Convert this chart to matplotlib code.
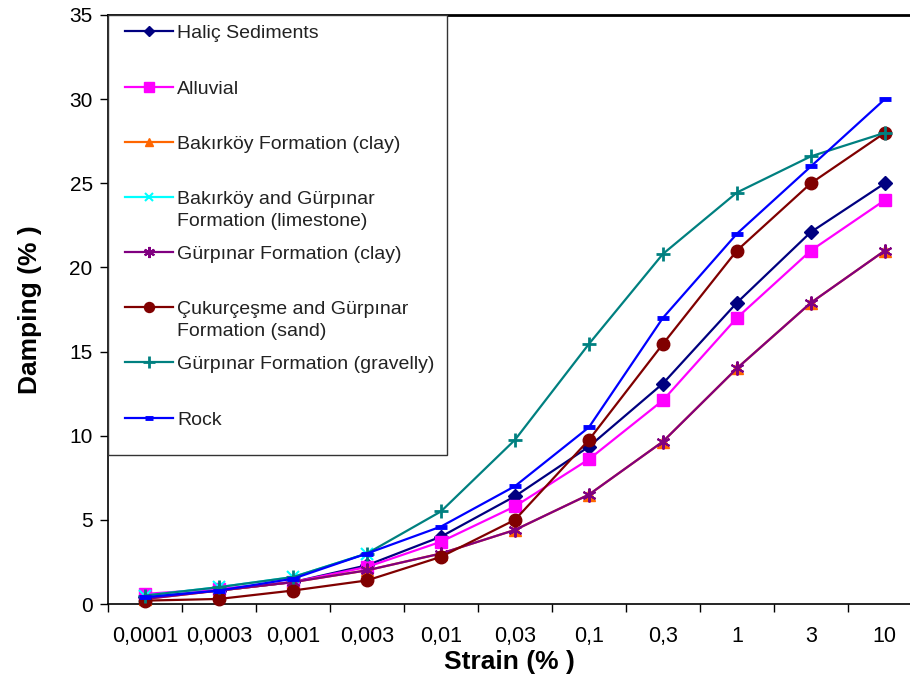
import numpy as np
import matplotlib
matplotlib.use("Agg")
import matplotlib.pyplot as plt
from matplotlib.patches import Rectangle
from matplotlib.lines import Line2D

plt.rcParams['font.family'] = ['Liberation Sans', 'DejaVu Sans']

strain_labels = ["0,0001", "0,0003", "0,001", "0,003", "0,01", "0,03",
                 "0,1", "0,3", "1", "3", "10"]

nan = np.nan
halic = [0.4, 0.8, 1.3, 2.3, 4.0, 6.4, 9.35, 13.1, 17.9, 22.1, 25.0]
alluvial = [0.6, 0.9, 1.3, 2.2, 3.7, 5.8, 8.6, 12.1, 17.0, 21.0, 24.0]
bakirkoy_clay = [0.3, 0.8, 1.3, 2.0, 3.0, 4.4, 6.5, 9.65, 14.0, 17.9, 21.0]
limestone = [0.5, 1.0, 1.6, 3.0, nan, nan, nan, nan, nan, nan, nan]
gurpinar_clay = [0.3, 0.8, 1.3, 2.0, 3.0, 4.4, 6.5, 9.65, 14.0, 17.9, 21.0]
cukurcesme = [0.2, 0.3, 0.8, 1.4, 2.8, 5.0, 9.75, 15.45, 21.0, 25.0, 28.0]
gravelly = [0.5, 1.0, 1.6, 3.0, 5.5, 9.75, 15.45, 20.8, 24.45, 26.6, 28.0]
rock = [0.4, 0.8, 1.5, 3.0, 4.6, 7.0, 10.5, 17.0, 22.0, 26.0, 30.0]

series_names = ["Haliç Sediments", "Alluvial", "Bakırköy Formation (clay)",
                "Bakırköy and Gürpınar\nFormation (limestone)",
                "Gürpınar Formation (clay)",
                "Çukurçeşme and Gürpınar\nFormation (sand)",
                "Gürpınar Formation (gravelly)", "Rock"]
series_values = [halic, alluvial, bakirkoy_clay, limestone, gurpinar_clay,
                 cukurcesme, gravelly, rock]
colors = ["#000080", "#FF00FF", "#FF6600", "#00FFFF", "#800080",
          "#800000", "#008080", "#0000FF"]
markers = ["D", "s", "^", "x", (6, 2, 0), "o", "+", "_"]
msizes = [7, 9, 8, 8, 10, 9, 10, 8]
mews = [1, 1, 1, 1.5, 1.5, 1, 2, 3.5]

fig = plt.figure(figsize=(9.1, 6.75), dpi=100)
ax = fig.add_axes([108/910, 1-604/675, 1-108/910, (604-15)/675])

x = np.arange(len(strain_labels))
for name, vals, c, m, ms, mew in zip(series_names, series_values, colors, markers, msizes, mews):
    ax.plot(x, vals, color=c, lw=1.6, marker=m, ms=ms, mew=mew, mec=c, mfc=c,
            clip_on=False, zorder=3)

ax.set_xlim(-0.5, 10.34)
ax.set_ylim(0, 35)
ax.set_yticks(np.arange(0, 36, 5))
ax.set_xticks(x)
ax.set_xticklabels(strain_labels, fontsize=15.5)
ax.set_xticks(np.arange(-0.5, 10.5, 1), minor=True)
ax.tick_params(axis='x', which='major', length=0, pad=16)
ax.tick_params(axis='x', which='minor', length=6, direction='out', width=1)
ax.tick_params(axis='y', length=6, direction='out', labelsize=15, pad=5, width=1)
ax.spines['right'].set_visible(False)
for s in ['left', 'bottom']:
    ax.spines[s].set_linewidth(1.2)
ax.spines['top'].set_linewidth(2)

ax.set_xlabel("Strain (% )", fontsize=19, fontweight='bold', labelpad=2)
ax.set_ylabel("Damping (% )", fontsize=19, fontweight='bold', labelpad=20)

# legend box
lx1 = (447-108)/(910-108)
ly0 = (604-455)/589
ax.add_patch(Rectangle((0, ly0), lx1, 1-ly0, transform=ax.transAxes,
                       facecolor='white', edgecolor='#333333', lw=1, zorder=5,
                       clip_on=False))
entry_px = [31, 87, 142, 197, 252, 307, 362, 418]
for ypx, name, c, m, ms, mew in zip(entry_px, series_names, colors, markers, msizes, mews):
    yf = (604-ypx)/589
    ax.add_line(Line2D([(125-108)/802, (173-108)/802], [yf, yf], transform=ax.transAxes,
                       color=c, lw=1.6, zorder=6, clip_on=False))
    ax.add_line(Line2D([(149-108)/802], [yf], transform=ax.transAxes, color=c,
                       marker=m, ms=ms*0.8, mew=mew, mec=c, mfc=c, zorder=6, clip_on=False))
    ax.text((177-108)/802, yf + 6/589, name, transform=ax.transAxes, fontsize=14,
            va='top', ha='left', color='#222222', zorder=7, linespacing=1.35)

fig.savefig("out.png", dpi=100)
